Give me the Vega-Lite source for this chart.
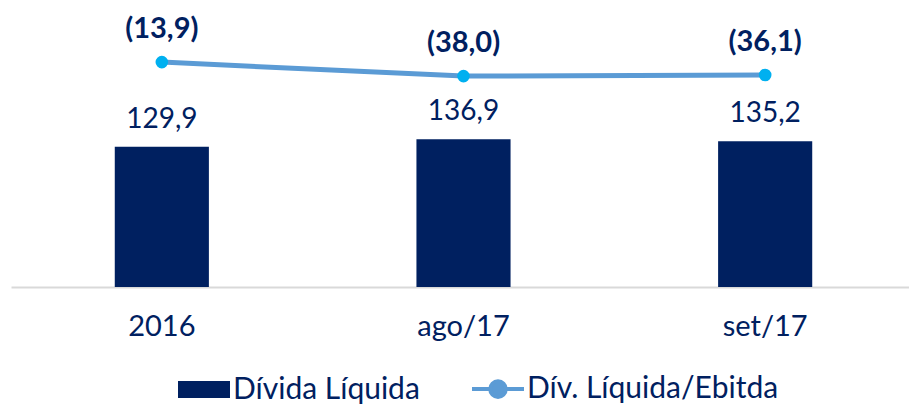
{
  "$schema": "https://vega.github.io/schema/vega-lite/v6.json",
  "width": 905,
  "height": 287,
  "autosize": {"type": "none"},
  "padding": {"left": 11, "top": 0, "right": 0, "bottom": 120},
  "background": "white",
  "config": {
    "view": {"stroke": null},
    "font": "Lato",
    "locale": {"number": {"decimal": ",", "thousands": ".", "grouping": [3], "currency": ["R$", ""]}}
  },
  "data": {
    "values": [
      {"periodo": "2016", "divida": 129.9, "ratio": -13.9},
      {"periodo": "ago/17", "divida": 136.9, "ratio": -38.0},
      {"periodo": "set/17", "divida": 135.2, "ratio": -36.1}
    ]
  },
  "encoding": {
    "x": {
      "field": "periodo", "type": "nominal", "sort": null,
      "scale": {"paddingInner": 0.688, "paddingOuter": 0.344},
      "axis": {
        "title": null, "labelAngle": 0, "ticks": false,
        "domainColor": "#D9D9D9", "domainWidth": 2,
        "labelFontSize": 29, "labelColor": "#002060", "labelPadding": 25,
        "labelFont": "Lato"
      }
    }
  },
  "layer": [
    {
      "layer": [
        {
          "mark": {"type": "bar", "color": "#002060"},
          "encoding": {
            "y": {"field": "divida", "type": "quantitative", "scale": {"domain": [0, 266]}, "axis": null},
            "color": {
              "datum": "Dívida Líquida",
              "scale": {"domain": ["Dívida Líquida", "Dív. Líquida/Ebitda"], "range": ["#002060", "#5B9BD5"]},
              "legend": {
                "title": null,
                "orient": "none",
                "direction": "horizontal",
                "legendX": 178,
                "legendY": 374,
                "labelFontSize": 30,
                "labelColor": "#002060",
                "labelFont": "Lato",
                "labelLimit": 0,
                "labelOffset": 14,
                "columnPadding": 44,
                "symbolSize": 2704,
                "symbolStrokeWidth": 4,
                "encode": {
                  "symbols": {
                    "update": {
                      "shape": {"signal": "datum.value === 'Dívida Líquida' ? 'M-1,-0.33H1V0.33H-1Z' : 'M-1,0H-0.3M0.3,0H1M0.3,0A0.3,0.3 0 1,1 -0.3,0A0.3,0.3 0 1,1 0.3,0'"},
                      "fill": {"signal": "datum.value === 'Dívida Líquida' ? '#002060' : '#00B0F0'"},
                      "stroke": {"signal": "datum.value === 'Dívida Líquida' ? '#002060' : '#5B9BD5'"},
                      "strokeWidth": {"signal": "datum.value === 'Dívida Líquida' ? 0 : 4"},
                      "fillOpacity": {"value": 1},
                      "opacity": {"value": 1}
                    }
                  }
                }
              }
            }
          }
        },
        {
          "mark": {"type": "text", "baseline": "alphabetic", "dy": -19, "fontSize": 28, "color": "#002060", "font": "Lato"},
          "encoding": {
            "y": {"field": "divida", "type": "quantitative", "scale": {"domain": [0, 266]}, "axis": null},
            "text": {"field": "divida", "type": "quantitative", "format": ".1f"}
          }
        }
      ]
    },
    {
      "layer": [
        {
          "mark": {"type": "line", "strokeWidth": 5},
          "encoding": {
            "y": {"field": "ratio", "type": "quantitative", "scale": {"domain": [-401, 93]}, "axis": null},
            "color": {"datum": "Dív. Líquida/Ebitda"}
          }
        },
        {
          "mark": {"type": "point", "filled": true, "size": 160, "color": "#00B0F0", "opacity": 1},
          "encoding": {
            "y": {"field": "ratio", "type": "quantitative", "scale": {"domain": [-401, 93]}, "axis": null}
          }
        },
        {
          "mark": {"type": "text", "baseline": "alphabetic", "dy": -24, "fontSize": 29, "fontWeight": "bold", "color": "#002060", "font": "Lato"},
          "encoding": {
            "y": {"field": "ratio", "type": "quantitative", "scale": {"domain": [-401, 93]}, "axis": null},
            "text": {"field": "ratio", "type": "quantitative", "format": "(.1f"}
          }
        }
      ]
    }
  ],
  "resolve": {"scale": {"y": "independent"}}
}
